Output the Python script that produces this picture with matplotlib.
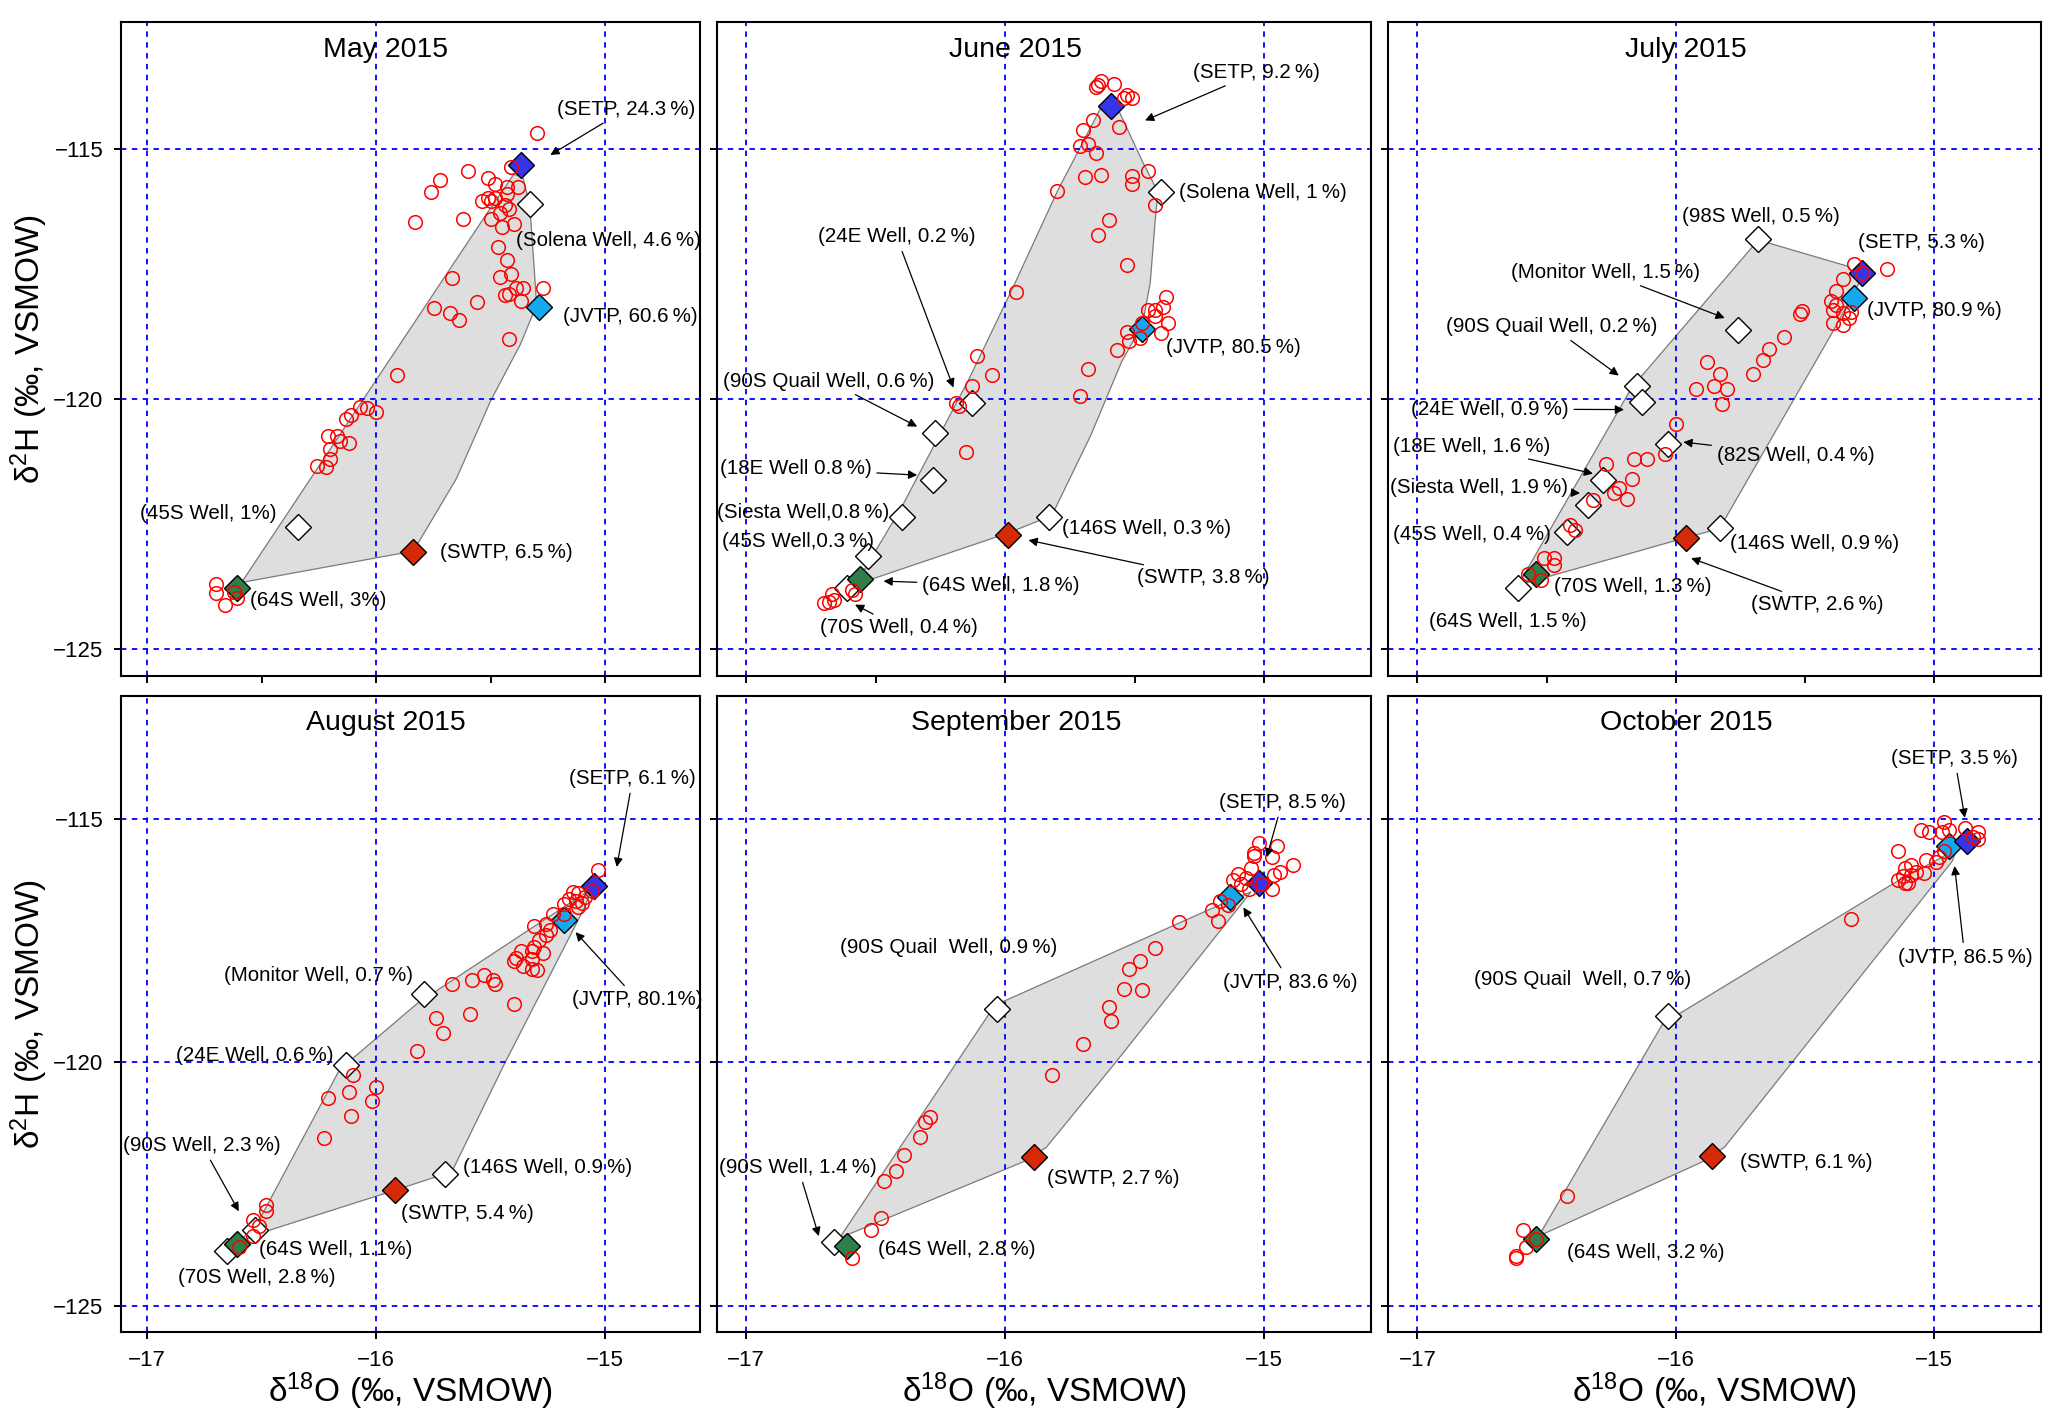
import matplotlib as mpl
import matplotlib.pyplot as plt

mpl.rcParams.update({
    "font.family": ["Liberation Sans", "DejaVu Sans"],
    "mathtext.fontset": "custom",
    "mathtext.rm": "Liberation Sans",
    "mathtext.default": "regular",
    "axes.linewidth": 1.5,
})

P = "\u2009%"

# ---------------- May 2015 ----------------
may_d18o = [-15.30, -15.41, -15.60, -15.72, -15.76, -15.51, -15.48, -15.43, -15.38, -15.54,
            -15.51, -15.50, -15.48, -15.43, -15.44, -15.42, -15.62, -15.83, -15.50, -15.46,
            -15.40, -15.45, -15.47, -15.43, -15.41, -15.46, -15.67, -15.39, -15.36, -15.27,
            -15.44, -15.42, -15.37, -15.56, -15.75, -15.68, -15.64, -15.42, -15.91, -16.07,
            -16.04, -16.00, -16.11, -16.13, -16.21, -16.17, -16.16, -16.12, -16.20, -16.20,
            -16.26, -16.22, -16.70, -16.70, -16.66, -16.61, -16.62]
may_d2h = [-114.69, -115.36, -115.44, -115.62, -115.86, -115.58, -115.70, -115.77, -115.76, -116.05,
           -115.99, -116.05, -115.99, -115.90, -116.12, -116.21, -116.40, -116.47, -116.41, -116.29,
           -116.51, -116.57, -116.95, -117.22, -117.49, -117.55, -117.57, -117.77, -117.77, -117.77,
           -117.92, -117.90, -118.03, -118.06, -118.18, -118.28, -118.41, -118.80, -119.51, -120.16,
           -120.18, -120.26, -120.31, -120.40, -120.74, -120.73, -120.83, -120.88, -120.99, -121.20,
           -121.33, -121.36, -123.70, -123.87, -124.11, -123.98, -123.85]
may_hull_d18o = [-16.59, -15.52, -15.40, -15.36, -15.33, -15.31, -15.30, -15.37, -15.50, -15.65,
                 -15.82, -15.90, -16.58]
may_hull_d2h = [-123.68, -116.31, -115.51, -115.56, -116.12, -117.42, -118.12, -118.90, -120.03,
                -121.59, -122.90, -123.09, -123.66]
may_members = [("setp", -15.37, -115.32), ("well", -15.33, -116.10), ("jvtp", -15.29, -118.15),
               ("well", -16.34, -122.55), ("swtp", -15.84, -123.05), ("green", -16.61, -123.77)]
may_labels = [
    ("(SETP, 24.3" + P + ")", -14.91, -114.21, "center", (-15.24, -115.12)),
    ("(Solena Well, 4.6" + P + ")", -15.39, -116.83, "left", None),
    ("(JVTP, 60.6" + P + ")", -15.185, -118.34, "left", None),
    ("(45S Well, 1%)", -17.03, -122.29, "left", None),
    ("(SWTP, 6.5" + P + ")", -15.72, -123.07, "left", None),
    ("(64S Well, 3%)", -16.55, -124.03, "left", None),
]

# ---------------- June 2015 ----------------
jun_d18o = [-15.63, -15.64, -15.58, -15.65, -15.53, -15.51, -15.54, -15.56, -15.66, -15.70,
            -15.71, -15.68, -15.65, -15.45, -15.69, -15.63, -15.51, -15.51, -15.80, -15.42,
            -15.60, -15.64, -15.53, -15.96, -15.45, -15.42, -15.38, -15.39, -15.42, -15.37,
            -15.40, -15.53, -15.52, -15.48, -15.47, -15.57, -15.68, -15.71, -16.11, -16.05,
            -16.13, -16.19, -16.18, -16.15, -16.70, -16.68, -16.66, -16.67, -16.59, -16.58]
jun_d2h = [-113.64, -113.73, -113.71, -113.77, -113.93, -113.99, -113.99, -114.56, -114.43, -114.62,
           -114.95, -114.90, -115.08, -115.44, -115.56, -115.53, -115.54, -115.71, -115.84, -116.12,
           -116.42, -116.73, -117.32, -117.86, -118.21, -118.22, -117.95, -118.16, -118.34, -118.47,
           -118.68, -118.66, -118.83, -118.77, -118.47, -119.01, -119.40, -119.93, -119.14, -119.52,
           -119.73, -120.07, -120.13, -121.06, -124.07, -124.05, -124.01, -123.90, -123.81, -123.90]
jun_hull_d18o = [-16.57, -16.40, -16.14, -15.97, -15.80, -15.63, -15.56, -15.47, -15.41, -15.42,
                 -15.44, -15.47, -15.55, -15.67, -15.82, -15.99, -16.51]
jun_hull_d2h = [-123.64, -122.16, -119.60, -117.77, -115.86, -114.17, -114.25, -115.25, -115.86,
                -116.38, -117.68, -118.51, -119.25, -120.73, -122.33, -122.68, -123.59]
jun_members = [("setp", -15.59, -114.15), ("well", -15.40, -115.86), ("jvtp", -15.47, -118.60),
               ("well", -16.13, -120.07), ("well", -16.27, -120.68), ("well", -16.28, -121.62),
               ("well", -16.40, -122.36), ("well", -15.83, -122.36), ("swtp", -15.99, -122.71),
               ("well", -16.53, -123.14), ("well", -16.61, -123.77), ("green", -16.56, -123.59)]
jun_labels = [
    ("(SETP, 9.2" + P + ")", -15.03, -113.47, "center", (-15.46, -114.43)),
    ("(Solena Well, 1" + P + ")", -15.33, -115.88, "left", None),
    ("(JVTP, 80.5" + P + ")", -15.38, -118.96, "left", None),
    ("(24E Well, 0.2" + P + ")", -16.42, -116.75, "center", (-16.20, -119.77)),
    ("(90S Quail Well, 0.6" + P + ")", -16.68, -119.64, "center", (-16.34, -120.55)),
    ("(18E Well 0.8" + P + ")", -16.81, -121.39, "center", (-16.34, -121.52)),
    ("(Siesta Well,0.8" + P + ")", -16.78, -122.26, "center", None),
    ("(45S Well,0.3" + P + ")", -16.80, -122.85, "center", None),
    ("(146S Well, 0.3" + P + ")", -15.78, -122.59, "left", None),
    ("(SWTP, 3.8" + P + ")", -15.49, -123.57, "left", (-15.91, -122.82)),
    ("(64S Well, 1.8" + P + ")", -16.32, -123.72, "left", (-16.47, -123.64)),
    ("(70S Well, 0.4" + P + ")", -16.41, -124.57, "center", (-16.58, -124.11)),
]

# ---------------- July 2015 ----------------
jul_d18o = [-15.31, -15.28, -15.18, -15.35, -15.38, -15.40, -15.38, -15.39, -15.35, -15.33,
            -15.39, -15.35, -15.32, -15.52, -15.51, -15.58, -15.64, -15.66, -15.70, -15.88,
            -15.83, -15.85, -15.80, -15.92, -15.82, -16.00, -16.04, -16.11, -16.16, -16.27,
            -16.17, -16.22, -16.24, -16.19, -16.32, -16.41, -16.39, -16.51, -16.47, -16.47,
            -16.57, -16.52]
jul_d2h = [-117.29, -117.47, -117.40, -117.60, -117.84, -118.03, -118.12, -118.21, -118.28, -118.38,
           -118.47, -118.51, -118.25, -118.29, -118.24, -118.75, -118.99, -119.21, -119.49, -119.26,
           -119.49, -119.74, -119.80, -119.80, -120.10, -120.50, -121.09, -121.20, -121.20, -121.30,
           -121.60, -121.77, -121.88, -122.00, -122.01, -122.51, -122.61, -123.18, -123.18, -123.31,
           -123.49, -123.62]
jul_hull_d18o = [-16.61, -16.17, -15.68, -15.33, -15.29, -15.39, -15.83, -15.96]
jul_hull_d2h = [-123.72, -119.77, -116.82, -117.35, -117.68, -118.64, -122.59, -122.77]
jul_members = [("well", -15.68, -116.80), ("setp", -15.28, -117.47), ("jvtp", -15.31, -117.97),
               ("well", -15.76, -118.61), ("well", -16.15, -119.73), ("well", -16.13, -120.05),
               ("well", -16.03, -120.90), ("well", -16.28, -121.61), ("well", -16.34, -122.12),
               ("well", -15.83, -122.57), ("swtp", -15.96, -122.78), ("well", -16.42, -122.65),
               ("well", -16.61, -123.77), ("green", -16.54, -123.49)]
jul_labels = [
    ("(98S Well, 0.5" + P + ")", -15.67, -116.36, "center", None),
    ("(SETP, 5.3" + P + ")", -15.05, -116.88, "center", None),
    ("(Monitor Well, 1.5" + P + ")", -16.27, -117.47, "center", (-15.81, -118.38)),
    ("(90S Quail Well, 0.2" + P + ")", -16.48, -118.55, "center", (-16.22, -119.53)),
    ("(JVTP, 80.9" + P + ")", -15.26, -118.23, "left", None),
    ("(24E Well, 0.9" + P + ")", -16.72, -120.20, "center", (-16.20, -120.21)),
    ("(18E Well, 1.6" + P + ")", -16.79, -120.94, "center", (-16.32, -121.49)),
    ("(Siesta Well, 1.9" + P + ")", -16.76, -121.77, "center", (-16.37, -121.88)),
    ("(82S Well, 0.4" + P + ")", -15.84, -121.12, "left", (-15.97, -120.86)),
    ("(45S Well, 0.4" + P + ")", -16.79, -122.71, "center", None),
    ("(146S Well, 0.9" + P + ")", -15.79, -122.88, "left", None),
    ("(SWTP, 2.6" + P + ")", -15.45, -124.11, "center", (-15.94, -123.18)),
    ("(70S Well, 1.3" + P + ")", -16.47, -123.74, "left", None),
    ("(64S Well, 1.5" + P + ")", -16.65, -124.44, "center", None),
]

# ---------------- August 2015 ----------------
aug_d18o = [-15.03, -15.06, -15.09, -15.12, -15.14, -15.10, -15.13, -15.16, -15.18, -15.18,
            -15.23, -15.12, -15.26, -15.31, -15.24, -15.26, -15.29, -15.31, -15.27, -15.32,
            -15.37, -15.39, -15.40, -15.32, -15.36, -15.32, -15.30, -15.48, -15.49, -15.53,
            -15.58, -15.67, -15.40, -15.59, -15.74, -15.71, -15.82, -16.10, -16.00, -16.02,
            -16.21, -16.12, -16.11, -16.23, -16.48, -16.48, -16.54, -16.51, -16.54, -16.60]
aug_d2h = [-116.05, -116.48, -116.61, -116.52, -116.50, -116.74, -116.69, -116.65, -116.75, -116.95,
           -116.95, -116.82, -117.16, -117.21, -117.29, -117.38, -117.48, -117.63, -117.76, -117.72,
           -117.72, -117.85, -117.93, -117.89, -118.02, -118.08, -118.10, -118.40, -118.32, -118.21,
           -118.32, -118.40, -118.80, -119.00, -119.10, -119.41, -119.77, -120.26, -120.50, -120.79,
           -120.73, -120.62, -121.11, -121.56, -122.93, -123.06, -123.23, -123.36, -123.57, -123.79]
aug_hull_d18o = [-16.61, -16.52, -16.16, -15.82, -15.31, -15.06, -15.09, -15.44, -15.67, -15.92, -16.52]
aug_hull_d2h = [-123.74, -123.32, -120.15, -118.79, -117.21, -116.44, -116.82, -120.03, -122.25,
                -122.63, -123.53]
aug_members = [("setp", -15.05, -116.39), ("jvtp", -15.18, -117.08), ("well", -15.79, -118.59),
               ("well", -16.13, -120.05), ("well", -15.70, -122.29), ("swtp", -15.92, -122.63),
               ("well", -16.53, -123.44), ("well", -16.65, -123.87), ("green", -16.61, -123.74)]
aug_labels = [
    ("(SETP, 6.1" + P + ")", -14.88, -114.17, "center", (-14.95, -115.99)),
    ("(JVTP, 80.1%)", -14.86, -118.72, "center", (-15.13, -117.33)),
    ("(Monitor Well, 0.7" + P + ")", -16.25, -118.21, "center", None),
    ("(24E Well, 0.6" + P + ")", -16.53, -119.87, "center", None),
    ("(90S Well, 2.3" + P + ")", -16.76, -121.71, "center", (-16.60, -123.06)),
    ("(146S Well, 0.9" + P + ")", -15.62, -122.16, "left", None),
    ("(SWTP, 5.4" + P + ")", -15.89, -123.10, "left", None),
    ("(64S Well, 1.1%)", -16.51, -123.85, "left", None),
    ("(70S Well, 2.8" + P + ")", -16.52, -124.43, "center", None),
]

# ---------------- September 2015 ----------------
sep_d18o = [-15.02, -14.95, -15.04, -15.04, -14.97, -14.89, -14.94, -14.96, -15.05, -15.10,
            -15.07, -15.12, -15.09, -15.01, -14.97, -15.06, -15.17, -15.14, -15.20, -15.33,
            -15.18, -15.42, -15.48, -15.52, -15.54, -15.47, -15.60, -15.59, -15.70, -15.82,
            -16.29, -16.31, -16.33, -16.39, -16.42, -16.47, -16.48, -16.52, -16.59]
sep_d2h = [-115.50, -115.56, -115.71, -115.77, -115.79, -115.94, -116.09, -116.15, -116.01, -116.14,
           -116.22, -116.26, -116.35, -116.35, -116.44, -116.44, -116.69, -116.78, -116.88, -117.12,
           -117.10, -117.65, -117.93, -118.08, -118.49, -118.52, -118.87, -119.15, -119.62, -120.26,
           -121.12, -121.22, -121.53, -121.91, -122.23, -122.44, -123.19, -123.44, -124.02]
sep_hull_d18o = [-16.64, -16.04, -15.18, -15.05, -15.57, -15.84, -15.91]
sep_hull_d2h = [-123.61, -118.83, -116.79, -116.50, -119.98, -121.74, -122.00]
sep_members = [("jvtp", -15.13, -116.61), ("setp", -15.02, -116.31), ("well", -16.03, -118.91),
               ("swtp", -15.89, -121.95), ("well", -16.66, -123.70), ("green", -16.61, -123.77)]
sep_labels = [
    ("(SETP, 8.5" + P + ")", -14.93, -114.66, "center", (-14.99, -115.79)),
    ("(JVTP, 83.6" + P + ")", -14.90, -118.36, "center", (-15.08, -116.82)),
    ("(90S Quail  Well, 0.9" + P + ")", -16.22, -117.65, "center", None),
    ("(SWTP, 2.7" + P + ")", -15.84, -122.38, "left", None),
    ("(90S Well, 1.4" + P + ")", -16.80, -122.16, "center", (-16.72, -123.57)),
    ("(64S Well, 2.8" + P + ")", -16.49, -123.85, "left", None),
]

# ---------------- October 2015 ----------------
oct_d18o = [-14.96, -14.97, -15.02, -15.05, -14.94, -14.88, -14.83, -14.83, -14.85, -15.14,
            -14.96, -14.98, -14.99, -15.03, -15.09, -15.11, -15.09, -15.12, -15.14, -15.11,
            -15.10, -15.07, -15.04, -15.32, -16.42, -16.59, -16.58, -16.62, -16.62, -16.54]
oct_d2h = [-115.07, -115.28, -115.28, -115.24, -115.24, -115.20, -115.28, -115.41, -115.37, -115.67,
           -115.67, -115.79, -115.88, -115.84, -115.94, -116.01, -116.16, -116.18, -116.26, -116.31,
           -116.31, -116.09, -116.11, -117.06, -122.74, -123.44, -123.79, -123.97, -124.02, -123.63]
oct_hull_d18o = [-16.53, -16.05, -15.15, -14.91, -14.93, -15.81, -15.89]
oct_hull_d2h = [-123.57, -119.21, -116.31, -115.62, -115.88, -121.74, -122.03]
oct_members = [("jvtp", -14.94, -115.56), ("setp", -14.87, -115.45), ("well", -16.03, -119.06),
               ("swtp", -15.86, -121.92), ("green", -16.54, -123.63)]
oct_labels = [
    ("(SETP, 3.5" + P + ")", -14.92, -113.76, "center", (-14.88, -114.98)),
    ("(JVTP, 86.5" + P + ")", -14.88, -117.85, "center", (-14.92, -115.97)),
    ("(90S Quail  Well, 0.7" + P + ")", -16.36, -118.30, "center", None),
    ("(SWTP, 6.1" + P + ")", -15.75, -122.06, "left", None),
    ("(64S Well, 3.2" + P + ")", -16.42, -123.91, "left", None),
]

MEMBER_COLOR = {"setp": "#3535e8", "jvtp": "#14a9ec", "swtp": "#d42a08",
                "green": "#2f7d48", "well": "white"}

GRID_X = [-17, -16, -15]
GRID_Y = [-115, -120, -125]

panels = [
    ("May 2015", may_d18o, may_d2h, may_hull_d18o, may_hull_d2h, may_members, may_labels),
    ("June 2015", jun_d18o, jun_d2h, jun_hull_d18o, jun_hull_d2h, jun_members, jun_labels),
    ("July 2015", jul_d18o, jul_d2h, jul_hull_d18o, jul_hull_d2h, jul_members, jul_labels),
    ("August 2015", aug_d18o, aug_d2h, aug_hull_d18o, aug_hull_d2h, aug_members, aug_labels),
    ("September 2015", sep_d18o, sep_d2h, sep_hull_d18o, sep_hull_d2h, sep_members, sep_labels),
    ("October 2015", oct_d18o, oct_d2h, oct_hull_d18o, oct_hull_d2h, oct_members, oct_labels),
]

col_left = [0.0587, 0.3469, 0.6716]
col_width = [0.2799, 0.3164, 0.3156]
row_bottom = [0.5265, 0.0669]
row_height = [0.4578, 0.4457]

fig = plt.figure(figsize=(20.67, 14.27), dpi=100)

for i, (title, sx, sy, hx, hy, members, labels) in enumerate(panels):
    r, c = divmod(i, 3)
    ax = fig.add_axes([col_left[c], row_bottom[r], col_width[c], row_height[r]])
    ax.set_xlim(-17.113, -14.587)
    ax.set_ylim(-125.53, -112.47)

    ax.fill(hx, hy, facecolor="#dedede", edgecolor="#7a7a7a", lw=0.9, zorder=1)
    for v in GRID_X:
        ax.axvline(v, color="blue", ls=(0, (3, 3)), lw=1.3, zorder=2)
    for v in GRID_Y:
        ax.axhline(v, color="blue", ls=(0, (3, 3)), lw=1.3, zorder=2)

    for kind, mx, my in members:
        ax.plot(mx, my, marker="D", ms=13.5, mfc=MEMBER_COLOR[kind], mec="black",
                mew=1.0, ls="none", zorder=3)
    ax.plot(sx, sy, "o", ms=9.8, mfc="none", mec="red", mew=1.1, zorder=4)

    for text, tx, ty, ha, tip in labels:
        if tip is None:
            ax.text(tx, ty, text, ha=ha, va="center", fontsize=14.8, zorder=5)
        else:
            ax.annotate(text, xy=tip, xytext=(tx, ty), ha=ha, va="center",
                        fontsize=14.8, zorder=5,
                        arrowprops=dict(arrowstyle="-|>", color="black", lw=0.9,
                                        mutation_scale=13, shrinkA=2, shrinkB=0))

    ax.text(0.457, 0.957, title, transform=ax.transAxes, ha="center", va="center",
            fontsize=20.5, zorder=5)

    ax.set_yticks(GRID_Y)
    if r == 0:
        ax.set_xticks([-17, -16.5, -16, -15.5, -15])
        ax.tick_params(axis="x", labelbottom=False)
    else:
        ax.set_xticks(GRID_X)
        ax.set_xlabel(r"δ$^{18}$O (‰, VSMOW)", fontsize=24, labelpad=0)
    if c == 0:
        ax.set_ylabel(r"δ$^{2}$H (‰, VSMOW)", fontsize=24, labelpad=2)
    else:
        ax.tick_params(axis="y", labelleft=False)
    ax.tick_params(direction="out", length=5, width=1.4, labelsize=16, pad=8)

fig.savefig("out.png", dpi=100)
